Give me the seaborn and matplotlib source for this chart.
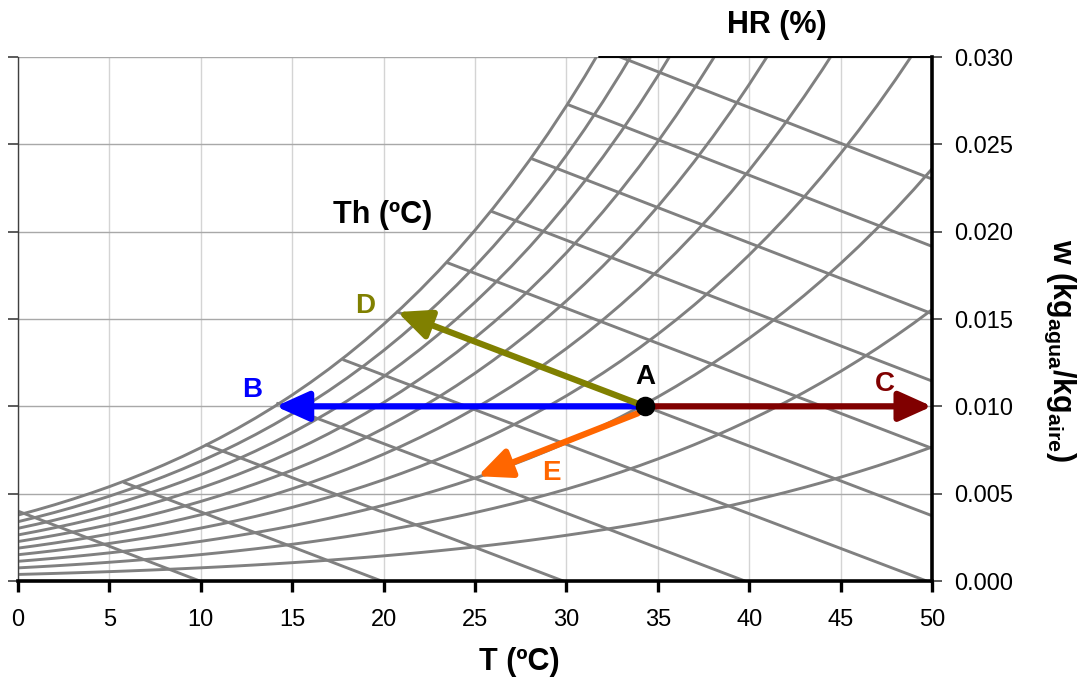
import numpy as np
import pandas as pd
import matplotlib
matplotlib.use("Agg")
import matplotlib.pyplot as plt
import seaborn as sns

# ---------------- data ----------------
T_GRID = list(range(0, 51))
P_SAT_KPA = [0.6113, 0.6571, 0.7060, 0.7581, 0.8135, 0.8725, 0.9353, 1.0020,
             1.0729, 1.1481, 1.2281, 1.3128, 1.4027, 1.4979, 1.5988, 1.7056,
             1.8185, 1.9380, 2.0644, 2.1978, 2.3388, 2.4877, 2.6447, 2.8104,
             2.9850, 3.1690, 3.3629, 3.5670, 3.7818, 4.0078, 4.2455, 4.4953,
             4.7578, 5.0335, 5.3229, 5.6267, 5.9453, 6.2795, 6.6298, 6.9969,
             7.3814, 7.7840, 8.2054, 8.6463, 9.1075, 9.5898, 10.094, 10.620,
             11.171, 11.745, 12.344]
P_ATM_KPA = 101.325
RH_LEVELS = [10, 20, 30, 40, 50, 60, 70, 80, 90, 100]
H_LEVELS = [10, 20, 30, 40, 50, 60, 70, 80, 90, 100, 110]
H_SAT_T = [-0.5, 5.8, 10.3, 14.2, 17.8, 20.75, 23.5, 25.9, 28.1, 30.1, 31.9]

X_TICKS = [0, 5, 10, 15, 20, 25, 30, 35, 40, 45, 50]
Y_TICKS = [0.000, 0.005, 0.010, 0.015, 0.020, 0.025, 0.030]

POINT_A_T = 34.3
POINT_A_W = 0.0100
PROC_NAMES = ["B", "C", "D", "E"]
PROC_START_T = [34.3, 34.3, 34.3, 33.9]
PROC_START_W = [0.0100, 0.0100, 0.0100, 0.0096]
PROC_END_T = [14.1, 50.0, 20.75, 25.15]
PROC_END_W = [0.0100, 0.0100, 0.0154, 0.0060]
PROC_COLORS = ["#0000ff", "#800000", "#808000", "#ff6600"]
PROC_LABEL_OFFSET_PT = [(-17, 12), (-34, 16), (-23, 4), (53, 2)]

# ---------------- style ----------------
sns.set_style("white")
plt.rcParams['font.family'] = ['Liberation Sans', 'DejaVu Sans']
plt.rcParams['mathtext.fontset'] = 'custom'
plt.rcParams['mathtext.rm'] = 'Liberation Sans'
plt.rcParams['mathtext.bf'] = 'Liberation Sans:bold'
plt.rcParams['mathtext.it'] = 'Liberation Sans:italic'
plt.rcParams['text.color'] = 'black'
plt.rcParams['xtick.color'] = 'black'
plt.rcParams['ytick.color'] = 'black'

fig = plt.figure(figsize=(10.86, 6.83), dpi=100)
ax = fig.add_axes([18 / 1086, 1 - 581 / 683, (932 - 18) / 1086, (581 - 57) / 683])

CURVE_COLOR = "#808080"

# relative humidity curves
T_arr = np.array(T_GRID, dtype=float)
ps = np.array(P_SAT_KPA)
rows = []
for rh in RH_LEVELS:
    pv = rh / 100.0 * ps
    w = 0.622 * pv / (P_ATM_KPA - pv)
    for t, wi in zip(T_arr, w):
        rows.append({"T": t, "w": wi, "curve": f"HR{rh}"})
df_rh = pd.DataFrame(rows)
sns.lineplot(data=df_rh, x="T", y="w", units="curve", estimator=None,
             color=CURVE_COLOR, lw=2.1, sort=False, ax=ax, zorder=2)

# enthalpy (Th) lines
rows = []
for h, ts in zip(H_LEVELS, H_SAT_T):
    t_end = min(h / 1.006, 50.0)
    for t in (ts, t_end):
        rows.append({"T": t, "w": (h - 1.006 * t) / (2501 + 1.86 * t), "line": f"h{h}"})
df_h = pd.DataFrame(rows)
sns.lineplot(data=df_h, x="T", y="w", units="line", estimator=None,
             color=CURVE_COLOR, lw=2.1, sort=False, ax=ax, zorder=2)

# process arrows
for name, t0, w0, t1, w1, c, off in zip(PROC_NAMES, PROC_START_T, PROC_START_W,
                                         PROC_END_T, PROC_END_W, PROC_COLORS,
                                         PROC_LABEL_OFFSET_PT):
    ax.annotate("", xy=(t1, w1), xytext=(t0, w0),
                arrowprops=dict(arrowstyle="-|>,head_length=1.0,head_width=0.45",
                                color=c, lw=4.5, shrinkA=0, shrinkB=0,
                                mutation_scale=20),
                zorder=4, annotation_clip=False)
    ax.annotate(name, xy=(t1, w1), xytext=off, textcoords="offset points",
                ha="center", va="center", color=c, fontsize=20, fontweight="bold",
                zorder=5)

sns.scatterplot(x=[POINT_A_T], y=[POINT_A_W], color="black", s=170,
                ax=ax, zorder=6, edgecolor="black", legend=False)
ax.annotate("A", xy=(POINT_A_T, POINT_A_W), xytext=(0, 21), textcoords="offset points",
            ha="center", va="center", color="black", fontsize=20, fontweight="bold",
            zorder=6)

# axes formatting
ax.set_xlim(0, 50)
ax.set_ylim(0, 0.030)
ax.set_xticks(X_TICKS)
ax.set_yticks(Y_TICKS)
ax.set_xticklabels([str(v) for v in X_TICKS])
ax.set_yticklabels([f"{v:.3f}" for v in Y_TICKS])
ax.set_xlabel("")
ax.set_ylabel("")
ax.set_axisbelow(True)
ax.xaxis.grid(True, color="#d4d4d4", lw=1.0)
ax.yaxis.grid(True, color="#a8a8a8", lw=1.0)

ax.spines["top"].set_visible(False)
ax.spines["left"].set_color("#404040")
ax.spines["left"].set_linewidth(1.0)
ax.spines["bottom"].set_color("black")
ax.spines["bottom"].set_linewidth(2.6)
ax.spines["right"].set_color("black")
ax.spines["right"].set_linewidth(2.6)

ax.tick_params(axis="x", direction="out", length=8, width=2.4, color="black",
               labelsize=17, labelcolor="black", pad=12, bottom=True)
ax.tick_params(axis="y", direction="out", length=7, width=1.2, color="#404040",
               left=True, right=True, labelleft=False, labelright=True,
               labelsize=17, labelcolor="black", pad=9)

# partial top border
ax.plot([31.8, 50.0], [0.030, 0.030], color="black", lw=1.4, clip_on=False, zorder=3)

# titles
fig.text(777 / 1086, 1 - 25 / 683, "HR (%)", ha="center", va="center",
         fontsize=22, fontweight="bold")
fig.text(383 / 1086, 1 - 215 / 683, "Th (ºC)", ha="center", va="center",
         fontsize=22, fontweight="bold")
fig.text(519 / 1086, 1 - 662 / 683, "T (ºC)", ha="center", va="center",
         fontsize=22, fontweight="bold")
fig.text(1060 / 1086, 1 - 350 / 683,
         r"w (kg$_{\mathbf{agua}}$/kg$_{\mathbf{aire}}$)",
         ha="center", va="center", rotation=270, fontsize=22, fontweight="bold")

fig.savefig("out.png", dpi=100)
